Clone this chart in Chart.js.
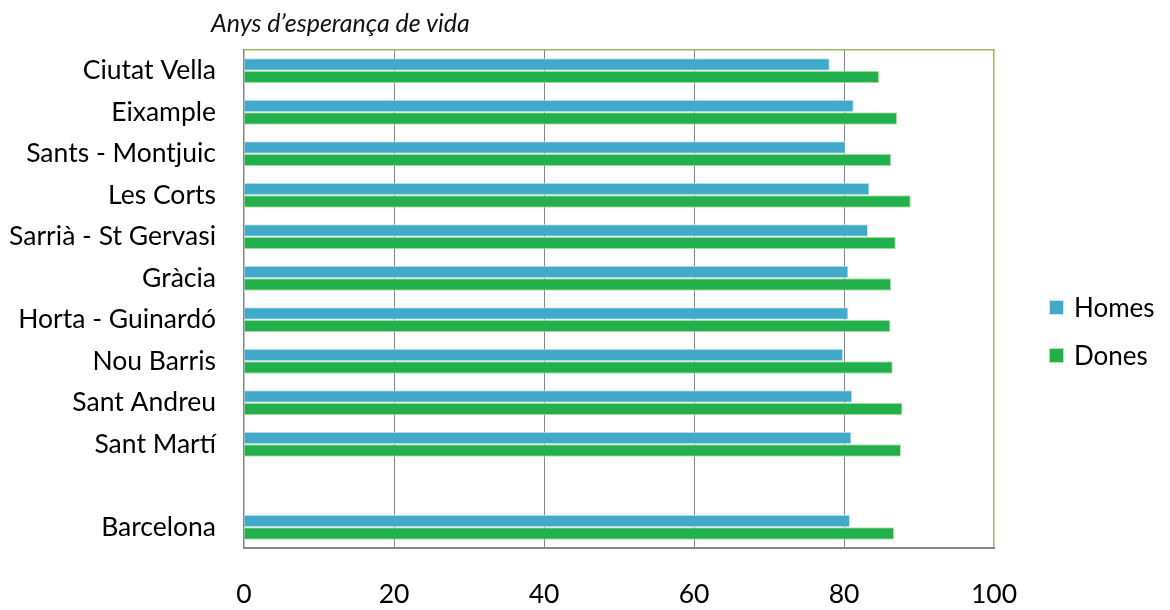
<!DOCTYPE html>
<html>
<head>
<meta charset="utf-8">
<script src="https://cdn.jsdelivr.net/npm/chart.js@4.4.1/dist/chart.umd.min.js"></script>
<style>
  html, body { margin: 0; padding: 0; background: #fff; }
  #wrap { position: relative; width: 1170px; height: 610px; }
  #title { position: absolute; left: 211px; top: 6px; line-height: 32px; font-family: Lato, sans-serif; font-style: italic; font-size: 25px; color: #111; }
  #legend { position: absolute; left: 1049px; top: 292px; font-family: Lato, sans-serif; font-size: 26px; color: #000; }
  .li { display: flex; align-items: center; height: 30px; margin-bottom: 18px; }
  .sw { width: 13px; height: 13px; margin-right: 10px; border: 1px solid; }
</style>
</head>
<body>
<div id="wrap">
  <canvas id="c" width="1170" height="610"></canvas>
  <div id="title">Anys d’esperança de vida</div>
  <div id="legend"></div>
</div>
<script>
const categories = ['Ciutat Vella','Eixample','Sants - Montjuic','Les Corts','Sarrià - St Gervasi','Gràcia','Horta - Guinardó','Nou Barris','Sant Andreu','Sant Martí','','Barcelona'];
const homes = [78.1, 81.3, 80.2, 83.4, 83.2, 80.6, 80.6, 79.9, 81.1, 81.0, null, 80.8];
const dones = [84.7, 87.1, 86.3, 88.9, 86.9, 86.3, 86.2, 86.5, 87.8, 87.6, null, 86.7];
const xTicks = [0, 20, 40, 60, 80, 100];
const seriesNames = ['Homes', 'Dones'];
const colors = { homes: '#41A9C9', homesBorder: '#C9E8F2', dones: '#21B04B', donesBorder: '#C5DFA3' };

const font = { family: 'Lato, sans-serif', size: 26.5 };

new Chart(document.getElementById('c'), {
  type: 'bar',
  data: {
    labels: categories,
    datasets: [
      { label: seriesNames[0], data: homes, backgroundColor: colors.homes, borderColor: colors.homesBorder, borderWidth: 1, categoryPercentage: 0.6, barPercentage: 1.0 },
      { label: seriesNames[1], data: dones, backgroundColor: colors.dones, borderColor: colors.donesBorder, borderWidth: 1, categoryPercentage: 0.6, barPercentage: 1.0 }
    ]
  },
  options: {
    indexAxis: 'y',
    responsive: false,
    animation: false,
    layout: { padding: { top: 50, right: 176, left: 0, bottom: 0 } },
    plugins: { legend: { display: false }, title: { display: false }, tooltip: { enabled: false } },
    scales: {
      x: {
        min: 0, max: 100,
        afterBuildTicks: s => { s.ticks = xTicks.map(v => ({ value: v })); },
        afterFit: s => { s.height = 62; },
        ticks: { font, color: '#000', padding: 31 },
        grid: {
          drawTicks: false,
          color: ctx => ctx.tick && ctx.tick.value === 100 ? '#9BBB59' : (ctx.tick && ctx.tick.value === 0 ? 'rgba(0,0,0,0)' : '#868686'),
          lineWidth: ctx => ctx.tick && ctx.tick.value === 100 ? 1.5 : 1
        },
        border: { color: '#868686', width: 2 }
      },
      x2: {
        position: 'top', min: 0, max: 100,
        ticks: { display: false },
        grid: { display: false, drawTicks: false },
        border: { color: '#9BBB59', width: 1.5 },
        afterFit: s => { s.height = 0; }
      },
      y: {
        afterFit: s => { s.width = 244; },
        ticks: { font, color: '#000', padding: 28 },
        grid: { display: false, drawTicks: false },
        border: { color: '#868686', width: 1.5 }
      }
    }
  }
});

const lg = document.getElementById('legend');
[[seriesNames[0], colors.homes, colors.homesBorder], [seriesNames[1], colors.dones, colors.donesBorder]].forEach(([n, c, b]) => {
  const d = document.createElement('div'); d.className = 'li';
  const s = document.createElement('span'); s.className = 'sw'; s.style.background = c; s.style.borderColor = b;
  const t = document.createElement('span'); t.textContent = n;
  d.appendChild(s); d.appendChild(t); lg.appendChild(d);
});
</script>
</body>
</html>
